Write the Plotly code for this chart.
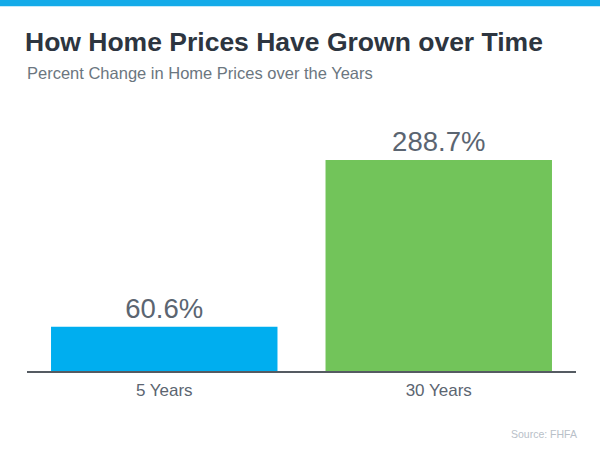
import plotly.graph_objects as go

# chart data
periods = ["5 Years", "30 Years"]
pct_change = [60.6, 288.7]
bar_colors = ["#00aeef", "#72c45a"]

text_gray = "#5b6571"

fig = go.Figure()
fig.add_trace(go.Bar(
    x=periods,
    y=pct_change,
    marker=dict(color=bar_colors, line=dict(width=0)),
    text=[f"{v}%" for v in pct_change],
    textposition="outside",
    textfont=dict(size=27.5, color=text_gray),
    cliponaxis=False,
    hoverinfo="skip",
))

fig.update_layout(
    width=600, height=450,
    margin=dict(l=27, r=24, t=100, b=79),
    plot_bgcolor="white", paper_bgcolor="white",
    font=dict(family="Arial, Liberation Sans, sans-serif", color=text_gray),
    bargap=0.175,
    showlegend=False,
    title=dict(
        text="<b>How Home Prices Have Grown over Time</b>",
        font=dict(size=26.5, color="#2d3540"),
        xref="container", yref="container",
        x=25 / 600, y=1 - 42 / 450,
        xanchor="left", yanchor="middle",
    ),
)

fig.update_xaxes(
    showline=True, linecolor="#555b62", linewidth=2,
    ticks="", tickfont=dict(size=17, color=text_gray),
    ticklabelstandoff=3,
    range=[-0.5, 1.5], fixedrange=True,
)
fig.update_yaxes(
    visible=False, range=[0, 370.8], showgrid=False, zeroline=False,
)

# top stripe
fig.add_shape(
    type="rect", xref="paper", yref="paper",
    x0=-0.06, x1=1.06, y0=1.346, y1=1.38,
    fillcolor="#14abe9", line=dict(width=0), layer="above",
)

fig.add_annotation(
    text="Percent Change in Home Prices over the Years",
    xref="paper", yref="paper", x=-0.004, y=1.0996,
    xanchor="left", yanchor="middle", showarrow=False,
    font=dict(size=16.5, color="#6b7680"),
)
fig.add_annotation(
    text="Source: FHFA",
    xref="paper", yref="paper", x=1.006, y=-0.232,
    xanchor="right", yanchor="middle", showarrow=False,
    font=dict(size=10.5, color="#b8c0c8"),
)

fig.write_html("out.html", config={"displayModeBar": False},
               post_script="document.body.style.margin='0';")
